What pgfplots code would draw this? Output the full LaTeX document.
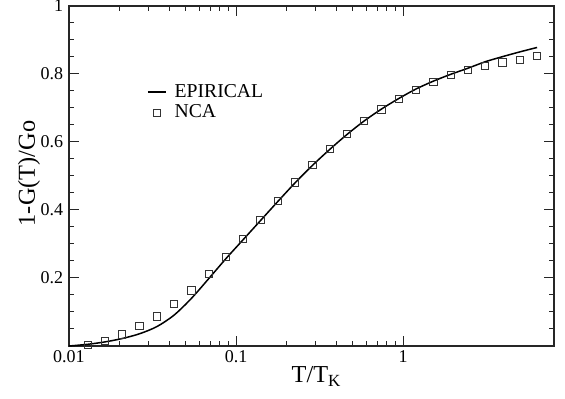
\documentclass[border=0pt]{standalone}
\usepackage{fontspec}
\setmainfont{Liberation Serif}
\usepackage{pgfplots}
\pgfplotsset{compat=1.18}

% short legend samples
\pgfplotsset{
  short line legend/.style={legend image code/.code={\draw[##1] (0cm,0cm) -- (0.38cm,0cm); \path (0.48cm,0cm);}},
  short mark legend/.style={legend image code/.code={\draw[mark repeat=2,mark phase=2,##1] plot coordinates {(0cm,0cm) (0.19cm,0cm) (0.38cm,0cm)}; \path (0cm,0cm) (0.48cm,0cm);}},
}

% NCA conductance points
\pgfplotstableread{
x        y
0.01294  0.002
0.01642  0.015
0.02084  0.034
0.02645  0.058
0.03356  0.087
0.04259  0.123
0.05404  0.163
0.06858  0.211
0.08702  0.262
0.1104   0.315
0.1401   0.371
0.1778   0.426
0.2257   0.481
0.2864   0.532
0.3634   0.579
0.4611   0.623
0.5852   0.662
0.7427   0.696
0.9425   0.726
1.196    0.753
1.518    0.777
1.926    0.797
2.444    0.812
3.101    0.824
3.936    0.834
4.995    0.842
6.339    0.853
}\nca

% empirical curve
\pgfplotstableread{
x        y
0.0100   0.000
0.01294  0.005
0.01642  0.012
0.02084  0.022
0.02645  0.036
0.03356  0.057
0.04259  0.091
0.05404  0.140
0.06858  0.198
0.08702  0.257
0.1104   0.313
0.1401   0.369
0.1778   0.425
0.2257   0.480
0.2864   0.531
0.3634   0.578
0.4611   0.622
0.5852   0.662
0.7427   0.697
0.9425   0.728
1.196    0.756
1.518    0.779
1.926    0.799
2.444    0.817
3.101    0.836
3.936    0.851
4.995    0.865
6.339    0.878
}\emp

\begin{document}
\begin{tikzpicture}
\begin{semilogxaxis}[
  scale only axis,
  width=291pt, height=204pt,
  xmin=0.01, xmax=8, ymin=0, ymax=1,
  xtick={0.01,0.1,1}, xticklabels={\textrm{0.01},\textrm{0.1},\textrm{1}},
  ytick={0.2,0.4,0.6,0.8,1},
  yticklabels={\textrm{0.2},\textrm{0.4},\textrm{0.6},\textrm{0.8},\textrm{1}},
  minor ytick={0.05,0.1,0.15,0.25,0.3,0.35,0.45,0.5,0.55,0.65,0.7,0.75,0.85,0.9,0.95},
  major tick length=6pt, minor tick length=3pt,
  tick style={black!85, line width=0.6pt},
  axis line style={black!85, line width=0.7pt},
  /pgf/number format/assume math mode=true,
  tick label style={font=\rmfamily\fontsize{10.8}{12}\selectfont},
  xticklabel style={yshift=1pt},
  label style={font=\rmfamily\fontsize{14.6}{16}\selectfont},
  xlabel={T/T\textsubscript{K}},
  ylabel={1-G(T)/Go},
  xlabel style={at={(axis description cs:0.5,0)}, anchor=base, yshift=-22.2pt, xshift=3pt},
  ylabel style={at={(axis description cs:0,0.5)}, anchor=base, yshift=20.4pt, xshift=1.5pt},
  legend style={draw=none, fill=none, at={(0.150,0.79)}, anchor=north west,
    font=\rmfamily\fontsize{11.8}{13}\selectfont, row sep=-1pt},
  legend cell align=left,
  clip=false,
]
\addplot[black, line width=0.9pt, smooth, short line legend]
  table[x=x, y=y] {\emp};
\addlegendentry{EPIRICAL}
\addplot[only marks, mark=square, mark size=2.2pt, black!80,
  mark options={line width=0.6pt}, short mark legend]
  table[x=x, y=y] {\nca};
\addlegendentry{NCA}
\end{semilogxaxis}
% page margins round the frame
\pgfresetboundingbox
\path[use as bounding box] ([shift={(-41.4pt,-31.8pt)}]current axis.south west)
  rectangle ([shift={(6.6pt,3.6pt)}]current axis.north east);
\end{tikzpicture}
\end{document}
